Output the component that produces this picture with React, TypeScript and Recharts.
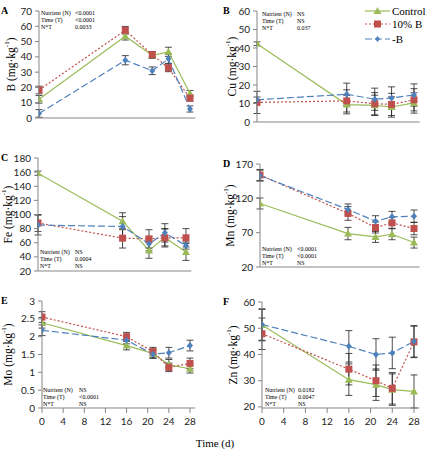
import React from 'react';
import { LineChart, Line, XAxis, YAxis, ErrorBar } from 'recharts';

const days = [0, 16, 21, 24, 28];
const xTicks = [0, 4, 8, 12, 16, 20, 24, 28];

// A: boron
const bControl = [12.2, 53.5, 41, 43.3, 16];
const bControlErr = [2.5, 2.5, 2, 3, 2];
const bTenB = [18.3, 57.4, 41.5, 32.8, 13];
const bTenBErr = [2.5, 2.5, 2, 2.5, 2];
const bMinusB = [3, 37.8, 30.9, 38.7, 5.9];
const bMinusBErr = [2.5, 3, 2.5, 3, 2];

// B: copper
const cuControl = [42.3, 9.4, 9, 8.1, 10.3];
const cuControlErr = [1, 5, 5.5, 5.5, 5.5];
const cuTenB = [10.6, 11.4, 9.9, 9.5, 12];
const cuTenBErr = [6, 6, 6, 6, 6];
const cuMinusB = [12, 15, 12.3, 13, 14.6];
const cuMinusBErr = [1.5, 6, 6, 6, 6];

// C: iron
const feControl = [158.5, 90.5, 49, 67.5, 47];
const feControlErr = [3, 12, 11, 12, 12];
const feTenB = [88, 66.5, 65.5, 67, 67];
const feTenBErr = [12, 14, 13, 13, 13];
const feMinusB = [85, 83, 58.5, 74, 56];
const feMinusBErr = [14, 14, 10, 13, 5];

// D: manganese
const mnControl = [112.5, 68.7, 63.8, 67.7, 55.6];
const mnControlErr = [8, 9, 8, 8, 8];
const mnTenB = [154, 98, 77.5, 84.3, 76];
const mnTenBErr = [8, 10, 8, 8, 9];
const mnMinusB = [153, 103.8, 86.7, 93, 94];
const mnMinusBErr = [8, 8, 8, 8, 9];

// E: molybdenum
const moControl = [2.39, 1.75, 1.53, 1.21, 1.1];
const moControlErr = [0.15, 0.12, 0.12, 0.15, 0.12];
const moTenB = [2.55, 2.0, 1.58, 1.14, 1.25];
const moTenBErr = [0.15, 0.12, 0.12, 0.12, 0.15];
const moMinusB = [2.18, 1.9, 1.51, 1.55, 1.75];
const moMinusBErr = [0.15, 0.1, 0.12, 0.15, 0.15];

// F: zinc
const znControl = [51.2, 30.4, 28.5, 26.6, 25.9];
const znControlErr = [6, 6, 6, 6, 6.3];
const znTenB = [47.9, 34.4, 30, 27.1, 44.8];
const znTenBErr = [6, 6, 6, 6, 6];
const znMinusB = [51.4, 43.1, 40, 40.6, 45];
const znMinusBErr = [6, 6, 6, 6, 6];

const GREEN = '#9bbb59';
const RED = '#c0504d';
const BLUE = '#4f81bd';
const AXIS = '#868686';
const SERIF = 'Liberation Serif, Times New Roman, serif';
const SANS = 'Lato, Open Sans, sans-serif';

const makeRows = (c: number[], cE: number[], r: number[], rE: number[], b: number[], bE: number[]) =>
  days.map((t, i) => ({ t, c: c[i], cE: cE[i], r: r[i], rE: rE[i], b: b[i], bE: bE[i] }));

const panels = [
  {
    letter: 'A', el: 'B', x0: 39, x28: 190, top: 11, bottom: 118,
    domain: [0, 70], yTicks: [0, 10, 20, 30, 40, 50, 60, 70], labelX: 11, showX: false,
    rows: makeRows(bControl, bControlErr, bTenB, bTenBErr, bMinusB, bMinusBErr),
    stats: [['Nutrient (N)', '<0.0001'], ['Time (T)', '<0.0001'], ['N*T', '0.0033']],
    statsX: 41, statsV: 75, statsY: 15,
  },
  {
    letter: 'B', el: 'Cu', x0: 257, x28: 414, top: 11, bottom: 122,
    domain: [0, 60], yTicks: [0, 10, 20, 30, 40, 50, 60], labelX: 232, showX: false,
    rows: makeRows(cuControl, cuControlErr, cuTenB, cuTenBErr, cuMinusB, cuMinusBErr),
    stats: [['Nutrient (N)', 'NS'], ['Time (T)', 'NS'], ['N*T', '0.037']],
    statsX: 262, statsV: 297, statsY: 16,
  },
  {
    letter: 'C', el: 'Fe', x0: 38, x28: 186, top: 158, bottom: 271,
    domain: [20, 180], yTicks: [20, 40, 60, 80, 100, 120, 140, 160, 180], labelX: 7.5, showX: false,
    rows: makeRows(feControl, feControlErr, feTenB, feTenBErr, feMinusB, feMinusBErr),
    stats: [['Nutrient (N)', 'NS'], ['Time (T)', '0.0004'], ['N*T', 'NS']],
    statsX: 40, statsV: 75, statsY: 254,
  },
  {
    letter: 'D', el: 'Mn', x0: 260, x28: 414, top: 164, bottom: 267,
    domain: [20, 170], yTicks: [20, 70, 120, 170], labelX: 230, showX: false,
    rows: makeRows(mnControl, mnControlErr, mnTenB, mnTenBErr, mnMinusB, mnMinusBErr),
    stats: [['Nutrient (N)', '<0.0001'], ['Time (T)', '<0.0001'], ['N*T', 'NS']],
    statsX: 262, statsV: 297, statsY: 251,
  },
  {
    letter: 'E', el: 'Mo', x0: 42, x28: 190, top: 301, bottom: 408,
    domain: [0, 3], yTicks: [0, 0.5, 1, 1.5, 2, 2.5, 3], labelX: 8, showX: true,
    rows: makeRows(moControl, moControlErr, moTenB, moTenBErr, moMinusB, moMinusBErr),
    stats: [['Nutrient (N)', 'NS'], ['Time (T)', '<0.0001'], ['N*T', 'NS']],
    statsX: 43, statsV: 79, statsY: 392,
  },
  {
    letter: 'F', el: 'Zn', x0: 262, x28: 414, top: 302, bottom: 408,
    domain: [20, 60], yTicks: [20, 30, 40, 50, 60], labelX: 233, showX: true,
    rows: makeRows(znControl, znControlErr, znTenB, znTenBErr, znMinusB, znMinusBErr),
    stats: [['Nutrient (N)', '0.0182'], ['Time (T)', '0.0047'], ['N*T', 'NS']],
    statsX: 265, statsV: 298, statsY: 392,
  },
];

const triangle = (p: any) =>
  p.cx == null ? null : (
    <path key={`t${p.index}`} d={`M${p.cx},${p.cy - 4} L${p.cx + 4},${p.cy + 3} L${p.cx - 4},${p.cy + 3} Z`} fill={GREEN} />
  );
const square = (p: any) =>
  p.cx == null ? null : <rect key={`s${p.index}`} x={p.cx - 3.5} y={p.cy - 3.5} width={7} height={7} fill={RED} />;
const diamond = (p: any) =>
  p.cx == null ? null : (
    <path key={`d${p.index}`} d={`M${p.cx},${p.cy - 3.5} L${p.cx + 3},${p.cy} L${p.cx},${p.cy + 3.5} L${p.cx - 3},${p.cy} Z`} fill={BLUE} />
  );

const Panel = ({ cfg }: { cfg: any }) => {
  const yw = 40;
  const mTop = 10;
  const mRight = 8;
  const xh = 24;
  const perDay = (cfg.x28 - cfg.x0) / 28;
  const plotW = perDay * 29;
  const plotH = cfg.bottom - cfg.top;
  const width = yw + plotW + mRight;
  const height = mTop + plotH + xh;
  return (
    <div style={{ position: 'absolute', left: cfg.x0 - yw, top: cfg.top - mTop }}>
      <LineChart width={width} height={height} data={cfg.rows} margin={{ top: mTop, right: mRight, bottom: 0, left: 0 }}>
        <XAxis
          dataKey="t"
          type="number"
          domain={[0, 29]}
          ticks={xTicks}
          allowDataOverflow
          height={xh}
          stroke={AXIS}
          tickSize={5}
          tickMargin={5}
          tick={cfg.showX ? { fill: '#222', fontSize: 10, fontFamily: SANS } : false}
        />
        <YAxis
          type="number"
          domain={cfg.domain}
          ticks={cfg.yTicks}
          interval={0}
          width={yw}
          stroke={AXIS}
          tickSize={4}
          tickMargin={3}
          tick={{ fill: '#222', fontSize: 10, fontFamily: SANS }}
        />
        <Line dataKey="c" stroke={GREEN} strokeWidth={1.2} dot={triangle} activeDot={false} isAnimationActive={false}>
          <ErrorBar dataKey="cE" width={3.5} stroke="#222" strokeWidth={0.8} direction="y" />
        </Line>
        <Line dataKey="r" stroke={RED} strokeWidth={1.2} strokeDasharray="2 2" dot={square} activeDot={false} isAnimationActive={false}>
          <ErrorBar dataKey="rE" width={3.5} stroke="#222" strokeWidth={0.8} direction="y" />
        </Line>
        <Line dataKey="b" stroke={BLUE} strokeWidth={1.2} strokeDasharray="7 3" dot={diamond} activeDot={false} isAnimationActive={false}>
          <ErrorBar dataKey="bE" width={3.5} stroke="#222" strokeWidth={0.8} direction="y" />
        </Line>
      </LineChart>
    </div>
  );
};

const legendItems = [
  { name: 'Control', color: GREEN, dash: undefined, shape: 'triangle', y: 11 },
  { name: '10% B', color: RED, dash: '2 2', shape: 'square', y: 24 },
  { name: '-B', color: BLUE, dash: '7 3', shape: 'diamond', y: 39 },
];

const serifStyle = { fontFamily: SERIF };

const Overlay = () => (
  <svg width={427} height={457} style={{ position: 'absolute', left: 0, top: 0, pointerEvents: 'none' }}>
    {panels.map((p) => {
      const letterX = p.x0 < 200 ? 1 : 223;
      const letterY = p.top + 3;
      const cy = (p.top + p.bottom) / 2;
      return (
        <g key={p.letter}>
          <text x={letterX} y={letterY} style={serifStyle} fontWeight="bold" fontSize={10} fill="#000">
            {p.letter}
          </text>
          <text
            x={p.labelX}
            y={cy}
            transform={`rotate(-90 ${p.labelX} ${cy})`}
            textAnchor="middle"
            dominantBaseline="central"
            style={serifStyle}
            fontSize={11.5}
            fill="#000"
          >
            {p.el} (mg·kg
            <tspan dy={-4} fontSize={7}>-1</tspan>
            <tspan dy={4}>)</tspan>
          </text>
          {p.stats.map((s, i) => (
            <g key={i}>
              <text x={p.statsX} y={p.statsY + i * 7} style={serifStyle} fontSize={6} fill="#000">
                {s[0]}
              </text>
              <text x={p.statsV} y={p.statsY + i * 7} style={serifStyle} fontSize={6} fill="#000">
                {s[1]}
              </text>
            </g>
          ))}
        </g>
      );
    })}
    {legendItems.map((it) => (
      <g key={it.name}>
        <line x1={365} x2={390} y1={it.y} y2={it.y} stroke={it.color} strokeWidth={1.2} strokeDasharray={it.dash} />
        {it.shape === 'triangle' && <path d={`M377.5,${it.y - 4} L381.5,${it.y + 3} L373.5,${it.y + 3} Z`} fill={it.color} />}
        {it.shape === 'square' && <rect x={374} y={it.y - 3.5} width={7} height={7} fill={it.color} />}
        {it.shape === 'diamond' && <path d={`M377.5,${it.y - 3} L380,${it.y} L377.5,${it.y + 3} L375,${it.y} Z`} fill={it.color} />}
        <text x={392} y={it.y} dominantBaseline="central" style={serifStyle} fontSize={11} fill="#000">
          {it.name}
        </text>
      </g>
    ))}
    <text x={215} y={447} textAnchor="middle" style={serifStyle} fontSize={11} fill="#000">
      Time (d)
    </text>
  </svg>
);

export default function App() {
  return (
    <div style={{ position: 'absolute', left: 0, top: 0, width: 427, height: 457, background: '#fff', overflow: 'hidden' }}>
      {panels.map((p) => (
        <Panel key={p.letter} cfg={p} />
      ))}
      <Overlay />
    </div>
  );
}
